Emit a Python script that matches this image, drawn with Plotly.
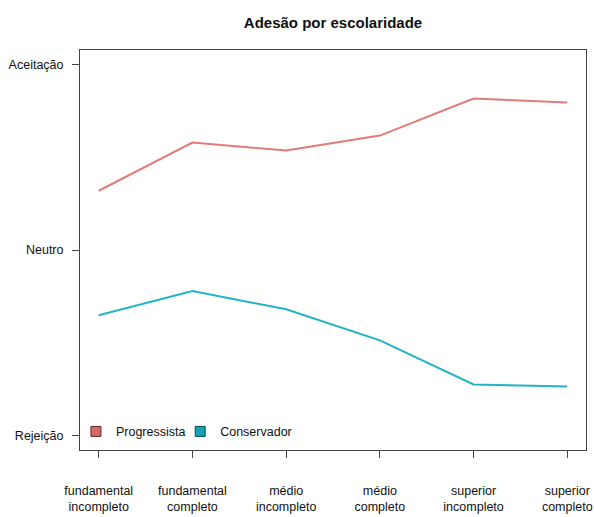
import plotly.graph_objects as go

# Education levels (x axis categories)
niveis = [
    "fundamental<br>incompleto",
    "fundamental<br>completo",
    "médio<br>incompleto",
    "médio<br>completo",
    "superior<br>incompleto",
    "superior<br>completo",
]
posicoes = [1, 2, 3, 4, 5, 6]

# Mean adherence score per group (-1 = rejeição, 0 = neutro, 1 = aceitação)
progressista = [0.32, 0.58, 0.537, 0.618, 0.818, 0.797]
conservador = [-0.352, -0.222, -0.32, -0.488, -0.726, -0.737]

# y axis tick labels
escala_valores = [-1, 0, 1]
escala_rotulos = ["Rejeição", "Neutro", "Aceitação"]

cor_prog = "#E07B79"
cor_cons = "#22B3C5"
cor_prog_leg = "#D8676B"
cor_cons_leg = "#10A3B6"

fonte = "Liberation Sans, Arial, sans-serif"

fig = go.Figure()

fig.add_trace(go.Scatter(x=posicoes, y=progressista, mode="lines",
                         line=dict(color=cor_prog, width=2),
                         showlegend=False, hoverinfo="skip"))
fig.add_trace(go.Scatter(x=posicoes, y=conservador, mode="lines",
                         line=dict(color=cor_cons, width=2),
                         showlegend=False, hoverinfo="skip"))

# Legend entries shown as filled squares, one legend box per group
fig.add_trace(go.Scatter(x=[None], y=[None], mode="markers", name="Progressista",
                         legend="legend",
                         marker=dict(symbol="square", size=10, color=cor_prog_leg,
                                     line=dict(color="#5a2a2a", width=1))))
fig.add_trace(go.Scatter(x=[None], y=[None], mode="markers", name="Conservador",
                         legend="legend2",
                         marker=dict(symbol="square", size=10, color=cor_cons_leg,
                                     line=dict(color="#0b4a52", width=1))))

legenda_base = dict(orientation="h", xanchor="left", y=0.008, yanchor="bottom",
                    bgcolor="rgba(0,0,0,0)", font=dict(size=12.5, color="#111"),
                    itemwidth=30)

fig.update_layout(
    width=594, height=517,
    margin=dict(l=80, r=8, t=50, b=67),
    paper_bgcolor="white", plot_bgcolor="white",
    font=dict(family=fonte, size=12.5, color="#111"),
    title=dict(text="<b>Adesão por escolaridade</b>", x=333 / 594, xanchor="center",
               xref="container", yref="container", y=1 - 23 / 517, yanchor="middle",
               font=dict(size=15, color="#111", family=fonte)),
    legend=dict(legenda_base, x=-0.008),
    legend2=dict(legenda_base, x=0.198),
    showlegend=True,
)

fig.update_xaxes(range=[0.8, 6.2], tickmode="array", tickvals=posicoes, ticktext=niveis,
                 ticks="outside", ticklen=7, tickcolor="#444", tickwidth=1,
                 showgrid=False, zeroline=False, showline=True, linecolor="#444",
                 linewidth=1, mirror=True, ticklabelstandoff=22, automargin=False,
                 tickfont=dict(size=12.5, color="#111"))
fig.update_yaxes(range=[-1.08, 1.08], tickmode="array", tickvals=escala_valores,
                 ticktext=escala_rotulos, ticks="outside", ticklen=7, tickcolor="#444",
                 tickwidth=1, showgrid=False, zeroline=False, showline=True,
                 linecolor="#444", linewidth=1, mirror=True, ticklabelstandoff=6,
                 automargin=False, tickfont=dict(size=12.5, color="#111"))

fig.write_html("out.html")
